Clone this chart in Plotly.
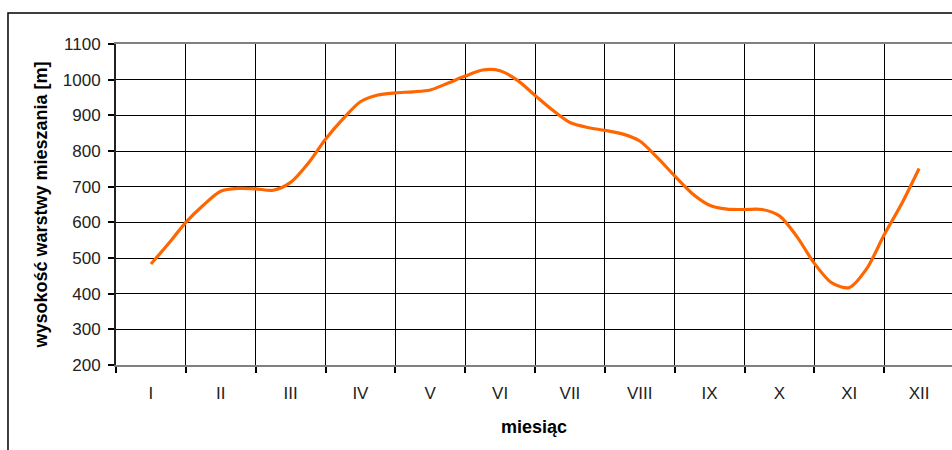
import plotly.graph_objects as go

months = ["I", "II", "III", "IV", "V", "VI", "VII", "VIII", "IX", "X", "XI", "XII"]
# position along the month axis (0 = I ... 11 = XII), read at quarter-month steps
pos = [0.0, 0.25, 0.5, 0.75, 1.0, 1.25, 1.5, 1.75, 2.0, 2.25, 2.5, 2.75,
       3.0, 3.25, 3.5, 3.75, 4.0, 4.25, 4.5, 4.75, 5.0, 5.25, 5.5, 5.75,
       6.0, 6.25, 6.5, 6.75, 7.0, 7.25, 7.5, 7.75, 8.0, 8.25, 8.5, 8.75,
       9.0, 9.25, 9.5, 9.75, 10.0, 10.25, 10.5, 10.75, 11.0]
height = [483, 540, 600, 648, 687, 695, 694, 690, 712, 765, 833, 890,
          938, 957, 963, 966, 971, 990, 1010, 1027, 1025, 998, 956, 915,
          880, 866, 858, 848, 828, 782, 730, 681, 648, 637, 636, 636,
          618, 560, 485, 430, 417, 470, 565, 652, 751]

font = "Liberation Sans, Arial, sans-serif"

fig = go.Figure()
fig.add_trace(go.Scatter(
    x=pos, y=height, mode="lines",
    line=dict(color="#FF6600", width=3.2, shape="spline", smoothing=0.8),
    showlegend=False, hoverinfo="skip"))

fig.update_layout(
    width=952, height=450,
    margin=dict(l=116, r=0, t=44, b=85, autoexpand=False),
    paper_bgcolor="white", plot_bgcolor="white",
    font=dict(family=font, size=17, color="black"),
    xaxis=dict(
        automargin=False,
        range=[-0.5, 11.471],
        tickvals=list(range(12)), ticktext=months,
        ticks="", showgrid=False, zeroline=False,
        showline=True, linecolor="#808080", linewidth=1.5, mirror=True,
        tickfont=dict(size=17, color="#222"),
        ticklabelstandoff=12,
        minor=dict(tickvals=[i - 0.5 for i in range(13)], ticks="outside",
                   ticklen=6, tickcolor="black", tickwidth=1.5,
                   showgrid=True, gridcolor="black", gridwidth=1.2),
        title=dict(text="<b>miesiąc</b>", font=dict(size=18), standoff=18),
    ),
    yaxis=dict(
        automargin=False,
        range=[200, 1100], dtick=100,
        ticks="outside", ticklen=6, tickcolor="black", tickwidth=1.5,
        showgrid=True, gridcolor="black", gridwidth=1.2, zeroline=False,
        showline=True, linecolor="#222", linewidth=2,
        tickfont=dict(size=17, color="#222"),
        ticklabelstandoff=4,
        title=dict(text="<b>wysokość warstwy mieszania [m]</b>", font=dict(size=18), standoff=10),
    ),
    shapes=[dict(type="rect", xref="paper", yref="paper",
                 x0=-0.1292, y0=-0.6, x1=1.2, y1=1.0966,
                 line=dict(color="black", width=1.5), layer="below")],
)

fig.write_html("out.html", config={"displayModeBar": False},
               post_script="document.body.style.margin='0';document.body.style.overflow='hidden';")
